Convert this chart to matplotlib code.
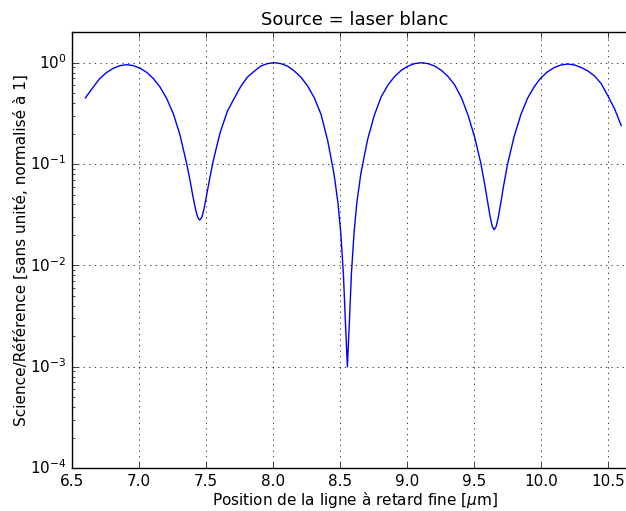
import matplotlib
matplotlib.use("Agg")
import matplotlib.pyplot as plt

# position de la ligne a retard (um) et rapport science/reference
position = [6.600, 6.658, 6.708, 6.758, 6.808, 6.858, 6.908, 6.958, 7.008, 7.058,
            7.108, 7.158, 7.208, 7.258, 7.308, 7.358, 7.384, 7.404, 7.424, 7.439,
            7.454, 7.469, 7.484, 7.504, 7.524, 7.554, 7.604, 7.659, 7.709, 7.759,
            7.809, 7.859, 7.909, 7.959, 8.009, 8.059, 8.109, 8.159, 8.209, 8.259,
            8.309, 8.359, 8.409, 8.456, 8.486, 8.506, 8.526, 8.541, 8.556, 8.571,
            8.586, 8.606, 8.626, 8.656, 8.706, 8.756, 8.808, 8.858, 8.908, 8.958,
            9.008, 9.058, 9.108, 9.158, 9.208, 9.258, 9.308, 9.358, 9.408, 9.458,
            9.508, 9.552, 9.582, 9.602, 9.622, 9.637, 9.652, 9.667, 9.682, 9.702,
            9.722, 9.752, 9.802, 9.852, 9.901, 9.951, 10.001, 10.051, 10.101, 10.151,
            10.201, 10.251, 10.301, 10.351, 10.401, 10.451, 10.501, 10.551, 10.600]
ratio = [0.45, 0.573, 0.70, 0.80, 0.88, 0.936, 0.955, 0.936, 0.883, 0.802,
         0.697, 0.573, 0.44, 0.31, 0.19, 0.098, 0.066, 0.047, 0.035, 0.0297,
         0.028, 0.0298, 0.0353, 0.0483, 0.0675, 0.107, 0.20, 0.33, 0.44, 0.58,
         0.72, 0.82, 0.925, 0.98, 1.0, 0.98, 0.925, 0.83, 0.72, 0.59,
         0.45, 0.31, 0.17, 0.080, 0.041, 0.0213, 0.0083, 0.0028, 0.0010, 0.0028,
         0.0083, 0.0213, 0.041, 0.080, 0.173, 0.30, 0.46, 0.60, 0.73, 0.84,
         0.925, 0.98, 1.0, 0.98, 0.925, 0.84, 0.73, 0.60, 0.45, 0.30,
         0.18, 0.102, 0.062, 0.043, 0.030, 0.0243, 0.0225, 0.0243, 0.0296, 0.042,
         0.061, 0.10, 0.19, 0.31, 0.446, 0.58, 0.71, 0.815, 0.897, 0.95,
         0.97, 0.95, 0.897, 0.83, 0.74, 0.62, 0.47, 0.35, 0.24]

plt.style.use('classic')
plt.rcParams['mathtext.fontset'] = 'dejavusans'
plt.rcParams['figure.facecolor'] = 'white'
plt.rcParams['savefig.facecolor'] = 'white'
plt.rcParams['font.size'] = 11

fig = plt.figure(figsize=(6.26, 5.11), dpi=100)
ax = fig.add_axes([0.115, 0.084, 0.903, 0.853])

ax.semilogy(position, ratio, 'b-', lw=1.0)
ax.set_xlim(6.5, 10.72)
ax.set_ylim(1e-4, 2)
ax.set_xticks([6.5, 7.0, 7.5, 8.0, 8.5, 9.0, 9.5, 10.0, 10.5])
ax.tick_params(labelsize=11)
ax.grid(True)

ax.set_title("Source = laser blanc", fontsize=13)
ax.set_xlabel(u"Position de la ligne à retard fine [$\\mu$m]", fontsize=11, labelpad=1)
ax.set_ylabel(u"Science/Référence [sans unité, normalisé à 1]", fontsize=11, labelpad=1)

fig.savefig("out.png", dpi=100)
